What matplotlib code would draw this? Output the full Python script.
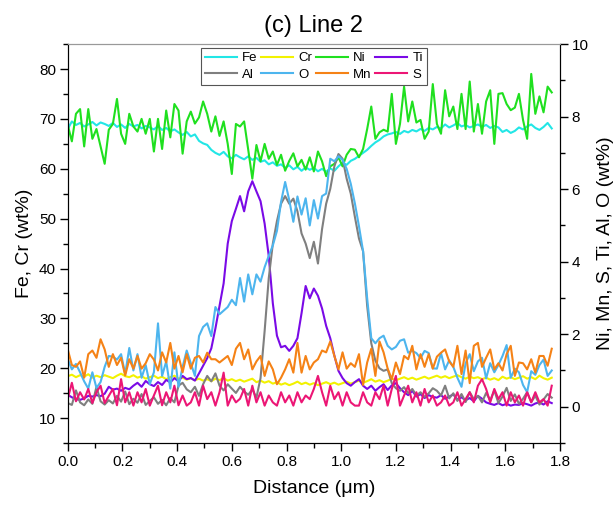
import numpy as np
import matplotlib
matplotlib.use("Agg")
import matplotlib.pyplot as plt
from matplotlib.ticker import MultipleLocator

plt.rcParams["font.family"] = ["Liberation Sans", "DejaVu Sans"]

step = 0.015  # sampling step of the line scan (um)

# left axis (wt%)
fe = [68.0, 69.5, 68.8, 69.2, 68.5, 68.9, 69.4, 68.7, 69.3, 69.0,
      68.6, 69.2, 68.4, 68.9, 68.2, 69.0, 68.5, 68.8, 68.1, 68.6,
      68.3, 67.9, 68.6, 67.8, 68.2, 67.5, 67.9, 67.3, 66.8, 67.4,
      66.5, 66.9, 65.6, 65.1, 64.8, 63.8, 63.2, 62.8, 63.4, 62.5,
      62.1, 62.8, 62.3, 61.9, 62.5, 61.8, 62.2, 61.4, 61.7, 60.9,
      61.3, 60.6, 60.9, 60.2, 60.7, 59.9, 60.4, 59.6, 60.3, 59.8,
      60.2, 59.5, 60.0, 59.4, 60.1, 59.6, 60.5, 61.2, 60.8, 61.6,
      62.0, 62.6, 63.2, 63.8, 64.6, 65.3, 65.8, 66.5, 66.9, 67.1,
      67.4, 67.0, 67.6, 67.3, 67.8, 67.5, 68.0, 67.6, 68.2, 67.9,
      68.4, 68.1, 68.9, 68.3, 68.7, 69.2, 68.5, 68.8, 68.3, 68.6,
      68.9, 68.4, 68.8, 68.2, 68.6, 68.3, 67.4, 67.8, 67.2, 67.6,
      68.3, 67.9, 68.5, 68.9, 68.2, 67.8, 68.4, 69.2, 68.1]
cr = [18.4, 18.7, 18.2, 18.6, 18.3, 18.8, 18.1, 18.5, 18.2, 18.6,
      18.3, 18.0, 18.5, 18.9, 18.4, 18.2, 18.6, 18.1, 18.4, 17.9,
      18.2, 18.5, 18.0, 18.3, 17.8, 18.2, 18.5, 17.9, 18.1, 17.7,
      18.0, 17.6, 17.9, 17.5, 17.8, 17.4, 17.9, 17.6, 18.0, 17.5,
      17.8, 17.4, 17.7, 17.3, 17.6, 17.9, 17.2, 17.5, 17.1, 17.4,
      16.9, 17.2, 16.7, 17.0, 16.6, 16.9, 17.3, 16.8, 17.1, 16.7,
      17.0, 16.6, 16.9, 17.2, 16.8, 17.1, 16.7, 17.0, 17.3, 16.9,
      17.2, 17.5, 17.1, 17.4, 17.8, 17.3, 17.6, 17.2, 17.5, 17.9,
      17.6, 17.9, 18.2, 17.8, 18.1, 17.7, 18.0, 18.3, 17.9, 18.2,
      18.5, 18.1, 18.4, 18.0, 18.3, 18.6, 18.2, 17.9, 18.3, 18.0,
      18.2, 17.8, 18.1, 17.7, 18.0, 17.6, 18.3, 17.9, 18.2, 17.8,
      18.1, 18.4, 17.9, 18.2, 17.8, 18.5, 18.0, 17.7, 18.1]

# right axis (wt%)
ni = [7.77, 7.32, 8.08, 8.21, 7.18, 8.21, 7.39, 7.66, 7.18, 6.70,
      7.64, 7.80, 8.49, 7.53, 7.25, 8.08, 7.73, 7.59, 7.94, 7.53,
      7.94, 7.04, 7.94, 7.11, 8.17, 7.43, 8.35, 8.17, 6.98, 7.87,
      8.14, 7.81, 7.98, 8.42, 8.08, 7.59, 8.01, 7.47, 7.87, 7.25,
      6.42, 7.80, 7.73, 7.87, 7.09, 6.29, 7.22, 6.77, 7.25, 6.84,
      7.04, 6.67, 6.95, 6.51, 6.78, 6.99, 6.63, 6.81, 6.54, 6.88,
      6.49, 7.04, 6.77, 6.36, 6.63, 6.70, 6.88, 6.63, 6.95, 7.11,
      7.09, 6.88, 7.11, 7.66, 8.28, 7.39, 7.57, 7.64, 7.59, 8.63,
      7.25, 7.80, 8.83, 7.87, 8.42, 7.84, 7.91, 7.39, 7.59, 8.90,
      7.80, 7.53, 8.73, 8.01, 8.28, 7.66, 8.63, 7.66, 8.97, 7.59,
      8.35, 7.53, 8.42, 8.73, 7.25, 8.63, 8.65, 8.35, 8.18, 8.25,
      8.63, 7.91, 7.39, 9.18, 8.08, 8.56, 8.12, 8.83, 8.67]
ti = [0.33, 0.26, 0.21, 0.19, 0.23, 0.30, 0.28, 0.32, 0.29, 0.36,
      0.55, 0.47, 0.50, 0.44, 0.52, 0.48, 0.58, 0.66, 0.55, 0.71,
      0.62, 0.57, 0.68, 0.60, 0.74, 0.67, 0.79, 0.70, 0.85, 0.76,
      0.79, 0.72, 0.92, 1.13, 1.34, 1.61, 2.16, 2.78, 3.40, 4.50,
      5.12, 5.46, 5.81, 5.39, 5.94, 6.22, 5.94, 5.67, 5.05, 4.16,
      2.85, 1.96, 1.64, 1.68, 1.54, 1.68, 1.89, 2.58, 3.33, 2.99,
      3.26, 3.06, 2.71, 2.23, 1.89, 1.41, 0.99, 0.79, 0.65, 0.58,
      0.68, 0.76, 0.58, 0.49, 0.58, 0.44, 0.54, 0.62, 0.46, 0.59,
      0.65, 0.51, 0.40, 0.32, 0.44, 0.28, 0.35, 0.24, 0.32, 0.27,
      0.25, 0.32, 0.22, 0.28, 0.34, 0.20, 0.26, 0.18, 0.24, 0.15,
      0.30, 0.22, 0.12, 0.08, 0.05, 0.10, 0.04, 0.08, 0.03, 0.06,
      0.05, 0.10, 0.07, 0.03, 0.09, 0.12, 0.06, 0.15, 0.10]
al = [0.10, 0.05, 0.45, 0.12, 0.04, 0.20, 0.08, 0.55, 0.15, 0.06,
      0.18, 0.09, 0.30, 0.14, 0.42, 0.07, 0.22, 0.11, 0.35, 0.05,
      0.16, 0.26, 0.08, 0.19, 0.04, 0.24, 0.12, 0.58, 0.66, 0.48,
      0.40, 0.55, 0.30, 0.62, 0.85, 0.70, 0.92, 0.58, 0.45, 0.62,
      0.50, 0.38, 0.55, 0.42, 0.33, 0.48, 0.25, 0.79, 2.09, 3.54,
      4.50, 5.12, 5.60, 5.81, 5.60, 5.74, 5.39, 4.78, 4.50, 4.10,
      4.55, 3.95, 4.90, 5.60, 6.01, 6.63, 6.97, 6.84, 6.29, 5.88,
      5.24, 4.64, 4.29, 2.78, 1.75, 1.27, 1.06, 0.99, 1.03, 0.65,
      0.51, 0.44, 0.54, 0.37, 0.49, 0.31, 0.40, 0.27, 0.37, 0.51,
      0.44, 0.31, 0.58, 0.23, 0.37, 0.16, 0.35, 0.13, 0.40, 0.21,
      0.30, 0.12, 0.38, 0.18, 0.45, 0.10, 0.28, 0.52, 0.16, 0.34,
      0.08, 0.22, 0.40, 0.13, 0.30, 0.06, 0.20, 0.35, 0.25]
o = [1.31, 1.03, 1.18, 0.95, 0.70, 0.50, 0.95, 0.52, 0.68, 1.10,
     1.40, 1.38, 1.30, 1.45, 0.90, 1.62, 1.00, 1.45, 0.80, 1.15,
     0.62, 0.95, 2.30, 0.85, 1.25, 0.50, 1.50, 0.55, 1.10, 1.55,
     1.20, 0.85, 1.95, 2.20, 2.30, 1.95, 2.75, 2.55, 2.65, 2.75,
     2.95, 2.80, 3.55, 2.90, 3.65, 3.10, 3.65, 3.45, 3.85, 4.16,
     4.45, 4.85, 5.65, 6.20, 5.70, 5.10, 5.80, 5.30, 5.75, 5.00,
     5.70, 5.19, 5.81, 5.88, 6.84, 6.77, 6.91, 6.81, 6.56, 6.15,
     5.61, 4.98, 4.29, 2.99, 1.89, 1.75, 1.89, 1.96, 1.68, 1.58,
     1.65, 1.82, 1.86, 1.49, 1.54, 1.48, 1.34, 1.54, 1.48, 1.06,
     1.05, 1.48, 1.03, 1.28, 1.10, 0.80, 0.55, 1.20, 1.45, 0.98,
     1.25, 1.35, 0.78, 1.20, 0.95, 1.15, 1.40, 1.70, 0.80, 1.05,
     0.95, 0.60, 0.40, 0.98, 0.88, 1.15, 1.30, 0.85, 1.00]
mn = [1.58, 1.15, 1.10, 1.25, 0.80, 1.45, 1.55, 1.35, 1.86, 1.58,
      1.10, 1.45, 1.15, 1.35, 0.86, 1.31, 1.05, 1.40, 1.05, 1.20,
      1.45, 1.30, 1.00, 1.50, 1.22, 1.76, 1.05, 1.40, 0.95, 1.45,
      1.05, 1.35, 1.40, 1.22, 1.49, 1.31, 1.31, 1.22, 1.31, 1.40,
      1.15, 1.60, 1.76, 1.31, 1.58, 1.03, 1.25, 1.40, 0.85, 1.25,
      1.03, 0.62, 0.80, 1.03, 1.31, 0.94, 1.76, 0.94, 1.40, 1.03,
      1.22, 1.31, 1.55, 1.50, 1.80, 1.40, 1.03, 1.50, 1.05, 1.20,
      1.10, 1.45, 0.60, 1.22, 1.60, 0.85, 1.80, 1.50, 1.05, 0.76,
      1.22, 0.90, 1.40, 1.31, 1.68, 1.03, 1.45, 1.10, 1.45, 1.05,
      1.38, 1.49, 1.58, 1.25, 1.10, 1.68, 0.90, 1.55, 0.65, 1.68,
      1.76, 1.10, 1.35, 1.58, 1.03, 1.20, 1.00, 1.45, 1.68, 0.85,
      1.22, 1.20, 1.03, 1.31, 0.94, 1.40, 1.40, 1.13, 1.60]
s = [0.22, 0.66, 0.15, 0.40, 0.20, 0.49, 0.10, 0.40, 0.58, 0.10,
     0.30, 0.49, 0.04, 0.76, 0.12, 0.40, 0.03, 0.40, 0.12, 0.49,
     0.03, 0.31, 0.58, 0.04, 0.40, 0.12, 0.58, 0.04, 0.31, 0.03,
     0.12, 0.40, 0.03, 0.58, 0.21, 0.40, 0.03, 0.40, 0.94, 0.03,
     0.31, 0.12, 0.22, 0.49, 0.03, 0.58, 0.12, 0.40, 0.03, 0.31,
     0.12, 0.03, 0.40, 0.12, 0.31, 0.03, 0.40, 0.12, 0.31, 0.21,
     0.49, 0.85, 0.40, 0.03, 0.58, 0.21, 0.40, 0.03, 0.40, 0.12,
     0.03, 0.03, 0.40, 0.12, 0.03, 0.40, 0.21, 0.58, 0.03, 0.49,
     0.85, 0.03, 0.31, 0.58, 0.12, 0.40, 0.03, 0.49, 0.12, 0.31,
     0.03, 0.12, 0.31, 0.03, 0.12, 0.40, 0.03, 0.21, 0.40, 0.12,
     0.58, 0.76, 0.49, 0.12, 0.49, 0.21, 0.40, 0.03, 0.40, 0.12,
     0.31, 0.03, 0.40, 0.12, 0.40, 0.12, 0.21, 0.03, 0.58]

dist = np.arange(len(fe)) * step

fig = plt.figure(figsize=(6.16, 5.08), dpi=100)
ax = fig.add_axes([0.110, 0.128, 0.799, 0.785])
ax2 = ax.twinx()

lw = 1.5
h_fe, = ax.plot(dist, fe, color="#22e6e6", lw=lw, label="Fe")
h_cr, = ax.plot(dist, cr, color="#f2f200", lw=lw, label="Cr")
h_ni, = ax2.plot(dist, ni, color="#1fe01f", lw=lw, label="Ni")
h_ti, = ax2.plot(dist, ti, color="#7a0ae6", lw=lw, label="Ti")
h_al, = ax2.plot(dist, al, color="#7f7f7f", lw=lw, label="Al")
h_o, = ax2.plot(dist, o, color="#4db5ee", lw=lw, label="O")
h_mn, = ax2.plot(dist, mn, color="#f58216", lw=lw, label="Mn")
h_s, = ax2.plot(dist, s, color="#ec1675", lw=lw, label="S")

ax.set_xlim(0, 1.8)
ax.set_ylim(5, 85)
ax2.set_ylim(-1, 10)
ax.xaxis.set_major_locator(MultipleLocator(0.2))
ax.xaxis.set_minor_locator(MultipleLocator(0.1))
ax.yaxis.set_major_locator(MultipleLocator(10))
ax.yaxis.set_minor_locator(MultipleLocator(5))
ax2.yaxis.set_major_locator(MultipleLocator(2))
ax2.yaxis.set_minor_locator(MultipleLocator(1))
ax.xaxis.set_major_formatter(plt.FuncFormatter(lambda v, p: f"{v:.1f}"))

for a in (ax, ax2):
    a.tick_params(which="major", length=5.5, width=1, labelsize=11,
                  pad=3, direction="out")
    a.tick_params(which="minor", length=3.5, width=1, direction="out")
    a.spines["top"].set_color("#999999")
ax.tick_params(top=False, right=False)

ax.set_xlabel("Distance (μm)", fontsize=14, labelpad=8)
ax.set_ylabel("Fe, Cr (wt%)", fontsize=14, labelpad=4)
ax2.set_ylabel("Ni, Mn, S, Ti, Al, O (wt%)", fontsize=14, labelpad=6)
ax.set_title("(c) Line 2", fontsize=17, pad=9)

# column-major order so rows read Fe Cr Ni Ti / Al O Mn S
handles = [h_fe, h_al, h_cr, h_o, h_ni, h_mn, h_ti, h_s]
leg = ax2.legend(handles=handles, labels=[h.get_label() for h in handles],
                 loc="upper center", ncol=4, fontsize=9.5, frameon=True,
                 fancybox=False, edgecolor="#555555", framealpha=1,
                 handlelength=2.4, handletextpad=0.4, columnspacing=0.3,
                 labelspacing=0.3, borderpad=0.3, borderaxespad=0.3)
leg.get_frame().set_linewidth(0.8)

fig.savefig("out.png", dpi=100)
